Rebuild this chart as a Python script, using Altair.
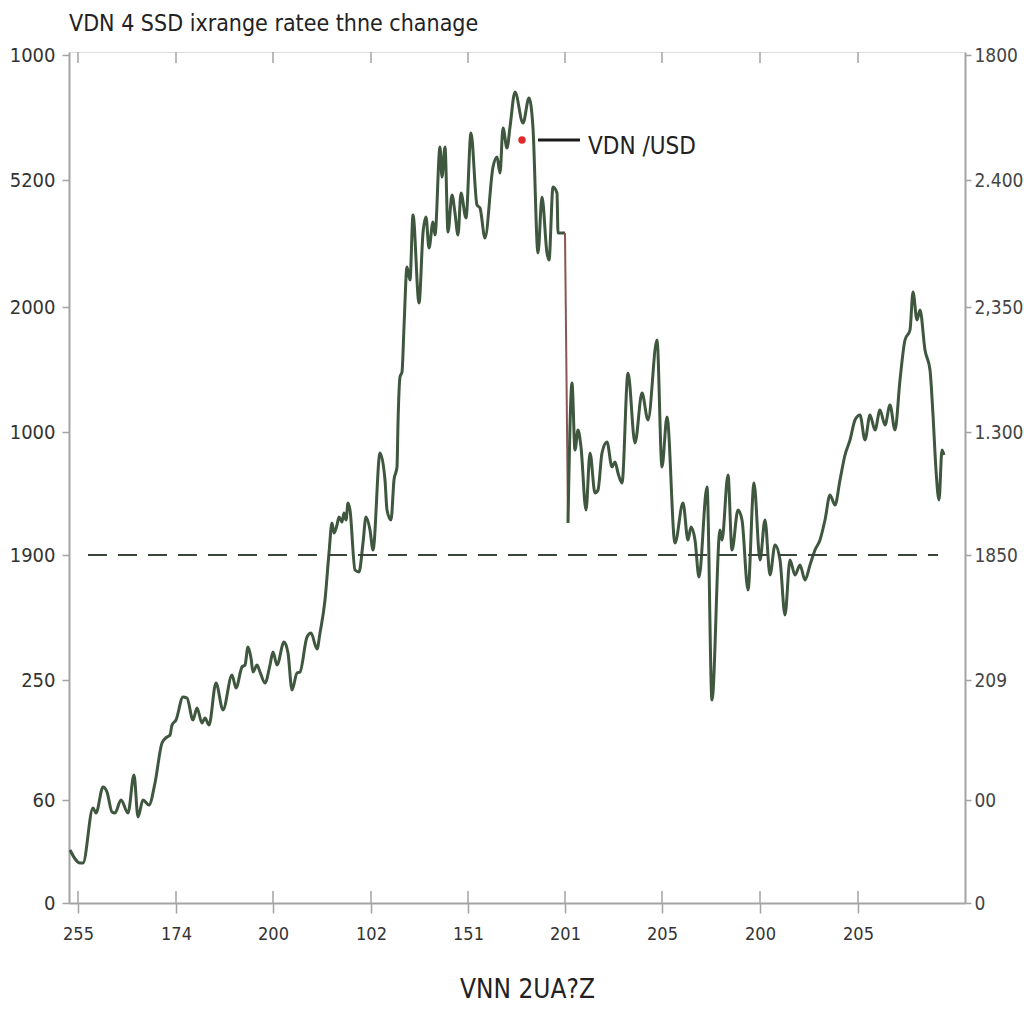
import altair as alt
import pandas as pd

# ---- data (x: day units, y: rate units) ----
part1_x = [1, 11, 14, 24, 27, 34, 38, 43, 46, 52, 59, 65, 69, 74, 80, 86, 93, 98, 101, 103, 107, 114, 118, 124, 128, 133, 136, 140,
           147, 154, 163, 167, 173, 176, 179, 182, 184, 188, 191, 196, 201, 204, 208, 215, 219, 223, 228, 231, 238, 242, 248, 251,
           256, 260, 263, 265, 268, 270, 273, 275, 277, 279, 281, 286, 290, 294, 297, 301, 304, 311, 316, 318, 322, 325, 328, 329,
           331, 333, 335, 338, 341, 344, 350, 354, 357, 360, 364, 366, 371, 373, 376, 379, 383, 386, 389, 392, 397, 402, 408, 411,
           416, 424, 428, 431, 434, 438, 441, 446, 454, 460, 464, 469, 473, 478, 480, 484, 488, 489, 496]
part1_y = [53, 40, 40, 95, 90, 116, 111, 91, 90, 103, 90, 128, 86, 103, 98, 120, 160, 166, 168, 178, 183, 206, 205, 183, 195, 180, 185, 178,
           220, 193, 228, 215, 236, 238, 256, 245, 231, 238, 231, 220, 238, 251, 238, 261, 250, 213, 230, 231, 266, 270, 254, 270,
           303, 350, 380, 370, 378, 386, 381, 390, 383, 400, 393, 333, 331, 360, 386, 373, 353, 450, 423, 393, 383, 423, 436, 480,
           526, 531, 576, 636, 623, 688, 600, 670, 686, 655, 681, 668, 756, 726, 756, 671, 708, 690, 668, 710, 685, 770, 698, 695,
           665, 736, 746, 730, 775, 755, 776, 811, 780, 805, 775, 650, 706, 650, 643, 716, 710, 670, 670]

drop_x = [496, 499]
drop_y = [670, 380]

part2_x = [499, 503, 506, 509, 512, 517, 521, 526, 529, 533, 538, 543, 546, 549, 553, 559, 566, 573, 579, 588, 593, 598, 606, 614,
           619, 622, 626, 630, 638, 643, 651, 653, 659, 663, 669, 673, 679, 685, 691, 696, 701, 706, 711, 716, 721, 726, 731, 736,
           741, 746, 751, 756, 761, 766, 771, 776, 781, 786, 791, 796, 801, 806, 811, 816, 821, 826, 831, 836, 841, 844, 848, 851,
           856, 861, 864, 867, 870, 873, 875]
part2_y = [380, 520, 453, 473, 456, 393, 450, 410, 413, 450, 461, 436, 441, 430, 420, 530, 460, 510, 483, 563, 436, 486, 360, 400,
           363, 376, 363, 326, 416, 203, 373, 363, 428, 353, 393, 383, 313, 420, 343, 383, 328, 358, 343, 288, 343, 328, 338, 323,
           338, 353, 363, 383, 408, 398, 423, 448, 463, 483, 488, 463, 488, 473, 493, 478, 498, 473, 523, 563, 573, 611, 583, 593,
           553, 533, 488, 433, 403, 453, 448]

ref_level = 348
ref_start, ref_end = 19, 869

marker_x, marker_y = [453], [763]
legend_x, legend_x2, legend_y = [469], [511], [763]
legend_text = ["VDN /USD"]
legend_text_x, legend_text_y = [519], [756]

x_tick_values = [9, 107, 204, 302, 399, 496, 593, 691, 789]
x_tick_labels = ["255", "174", "200", "102", "151", "201", "205", "200", "205"]

y_tick_values = [0, 103, 223, 348, 471, 596, 723, 848]
y_left_labels = ["0", "60", "250", "1900", "1000", "2000", "5200", "1000"]
y_right_labels = ["0", "00", "209", "1850", "1.300", "2,350", "2.400", "1800"]

X_DOMAIN = [0, 896]
Y_DOMAIN = [0, 851]

title_text = "VDN 4 SSD ixrange ratee thne chanage"
x_title = "VNN 2UA?Z"

FONT = "DejaVu Sans Condensed, Liberation Sans Narrow, Liberation Sans, Arial"
AXIS_GREY = "#a3a3a3"
LINE_COL = "#3e573e"


def expr(values, labels):
    return "[" + ",".join("'%s'" % l for l in labels) + "][indexof([" + ",".join(str(v) for v in values) + "], datum.value)]"


x_axis = alt.Axis(values=x_tick_values, labelExpr=expr(x_tick_values, x_tick_labels), grid=False,
                  domainColor=AXIS_GREY, domainWidth=2, tickColor=AXIS_GREY, tickWidth=1.5, tickSize=10,
                  labelFont=FONT, labelFontSize=18, labelColor="#333333", labelPadding=12,
                  title=x_title, titleFont=FONT, titleFontSize=26, titleFontWeight="normal", titleColor="#222222",
                  titlePadding=33, titleX=458)
left_axis = alt.Axis(values=y_tick_values, labelExpr=expr(y_tick_values, y_left_labels), grid=False, orient="left",
                     domainColor=AXIS_GREY, domainWidth=2, tickColor=AXIS_GREY, tickWidth=1.5, tickSize=7,
                     labelFont=FONT, labelFontSize=20, labelColor="#333333", labelPadding=7, title=None)
right_axis = alt.Axis(values=y_tick_values, labelExpr=expr(y_tick_values, y_right_labels), grid=False, orient="right",
                      domainColor=AXIS_GREY, domainWidth=2, tickColor=AXIS_GREY, tickWidth=1.5, tickSize=6,
                      labelFont=FONT, labelFontSize=19, labelColor="#444444", labelPadding=3, title=None)


def X(field="x"):
    return alt.X(field, type="quantitative", scale=alt.Scale(domain=X_DOMAIN, nice=False, zero=False), axis=x_axis)


def YL(field="y"):
    return alt.Y(field, type="quantitative", scale=alt.Scale(domain=Y_DOMAIN, nice=False, zero=False), axis=left_axis)


def YR(field="y"):
    return alt.Y(field, type="quantitative", scale=alt.Scale(domain=Y_DOMAIN, nice=False, zero=False), axis=right_axis)


df1 = pd.DataFrame({"x": part1_x, "y": part1_y, "o": range(len(part1_x))})
df2 = pd.DataFrame({"x": part2_x, "y": part2_y, "o": range(len(part2_x))})
dfd = pd.DataFrame({"x": drop_x, "y": drop_y, "o": range(len(drop_x))})

line1 = alt.Chart(df1).mark_line(color=LINE_COL, strokeWidth=3, strokeJoin="round", interpolate="monotone").encode(
    x=X(), y=YL(), order="o:Q")
line2 = alt.Chart(df2).mark_line(color=LINE_COL, strokeWidth=3, strokeJoin="round", interpolate="monotone").encode(
    x=X(), y=YL(), order="o:Q")
drop = alt.Chart(dfd).mark_line(color="#8a5555", strokeWidth=2).encode(x=X(), y=YL(), order="o:Q")

dot = alt.Chart(pd.DataFrame({"x": marker_x, "y": marker_y})).mark_circle(
    color="#e02828", size=55, opacity=1).encode(x=X(), y=YL())

leg_line = alt.Chart(pd.DataFrame({"x": legend_x, "x2": legend_x2, "y": legend_y})).mark_rule(
    color="#1a1a1a", strokeWidth=3).encode(x=X(), x2="x2:Q", y=YL())
leg_text = alt.Chart(pd.DataFrame({"x": legend_text_x, "y": legend_text_y, "t": legend_text})).mark_text(
    align="left", baseline="middle", font=FONT, fontSize=24, color="#222222").encode(x=X(), y=YL(), text="t:N")

# top inward ticks and bottom inward ticks
tick_df = pd.DataFrame({"x": x_tick_values})
top_ticks = alt.Chart(tick_df).mark_rule(color=AXIS_GREY, strokeWidth=1.5).encode(
    x=X(), y=alt.datum(Y_DOMAIN[1], scale=alt.Scale(domain=Y_DOMAIN, nice=False, zero=False), axis=left_axis, type="quantitative"),
    y2=alt.datum(Y_DOMAIN[1] - 11))
bot_ticks = alt.Chart(tick_df).mark_rule(color=AXIS_GREY, strokeWidth=1.5).encode(
    x=X(), y=alt.datum(0, scale=alt.Scale(domain=Y_DOMAIN, nice=False, zero=False), axis=left_axis, type="quantitative"),
    y2=alt.datum(12))

left_group = alt.layer(top_ticks, bot_ticks, line1, drop, line2, dot, leg_line, leg_text)

ref = alt.Chart(pd.DataFrame({"x": [ref_start], "x2": [ref_end], "y": [ref_level]})).mark_rule(
    color="#3a463a", strokeWidth=2, strokeDash=[19, 11]).encode(x=X(), x2="x2:Q", y=YR())

chart = alt.layer(left_group, ref).resolve_scale(y="independent").properties(
    width=896, height=851,
    title=alt.TitleParams(text=title_text, anchor="start", frame="group", font=FONT, fontSize=23,
                          fontWeight="normal", color="#222222", offset=9),
    autosize=alt.AutoSizeParams(type="none"),
    padding={"left": 69, "top": 52, "right": 59, "bottom": 121},
).configure_view(stroke=AXIS_GREY, strokeWidth=2).configure(background="white")

chart.save("out.html", embed_options={"renderer": "svg", "actions": False})
